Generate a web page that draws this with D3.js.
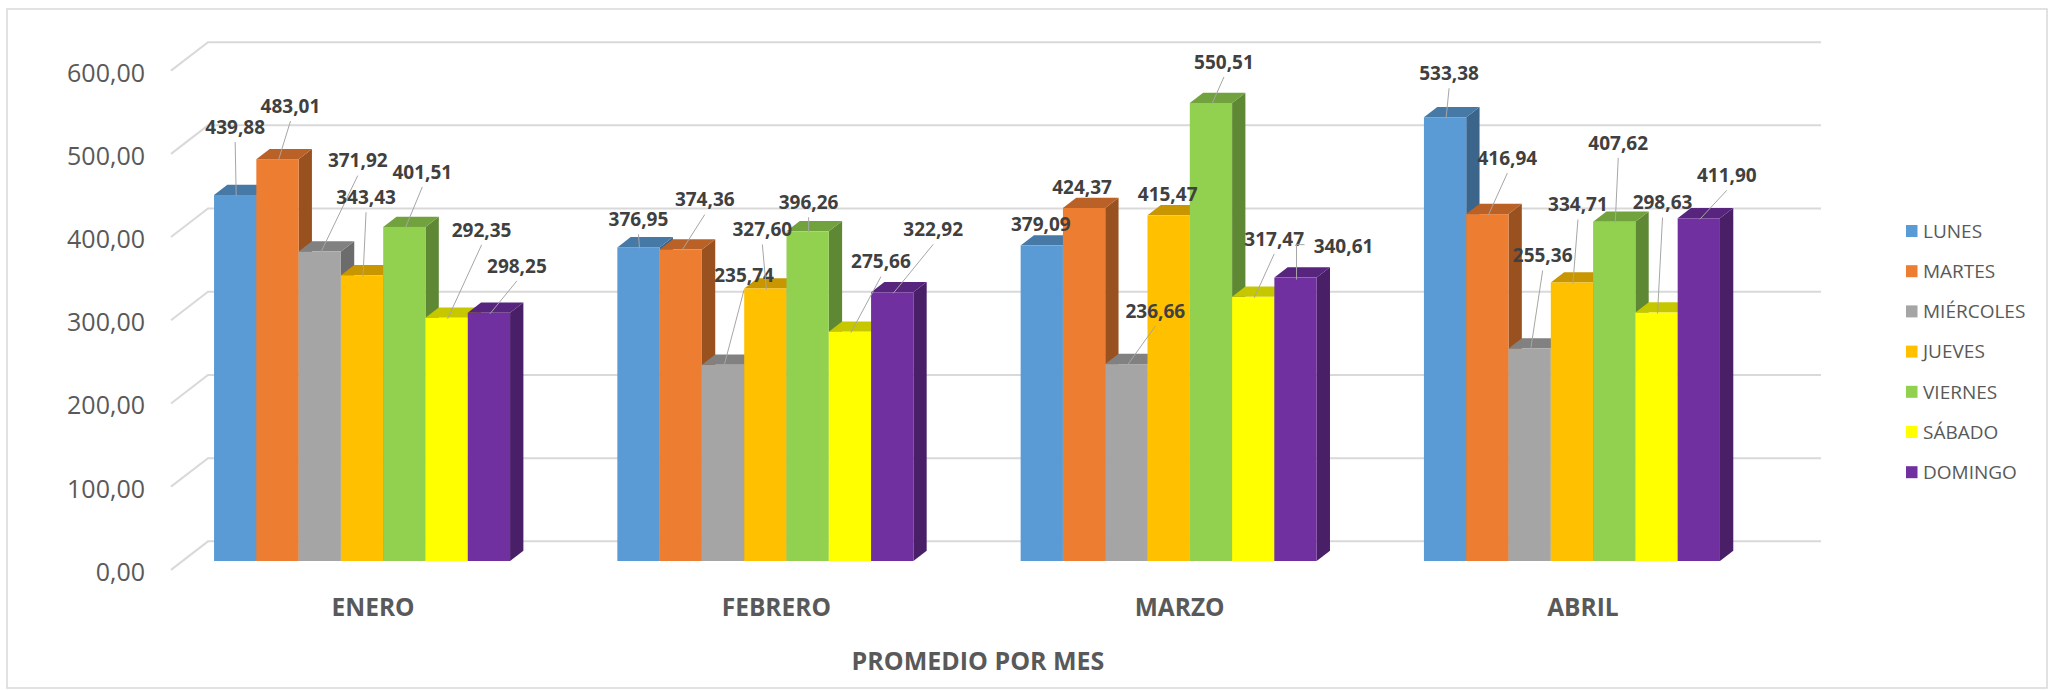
<!DOCTYPE html>
<html>
<head>
<meta charset="utf-8">
<script src="https://cdn.jsdelivr.net/npm/d3@7"></script>
<style>
  body { margin: 0; background: #fff; }
  text { font-family: "Open Sans", "DejaVu Sans", sans-serif; }
</style>
</head>
<body>
<div id="chart"></div>
<script>
// data
var months = ["ENERO", "FEBRERO", "MARZO", "ABRIL"];
var days = ["LUNES", "MARTES", "MIÉRCOLES", "JUEVES", "VIERNES", "SÁBADO", "DOMINGO"];
var lunes     = [439.88, 376.95, 379.09, 533.38];
var martes    = [483.01, 374.36, 424.37, 416.94];
var miercoles = [371.92, 235.74, 236.66, 255.36];
var jueves    = [343.43, 327.60, 415.47, 334.71];
var viernes   = [401.51, 396.26, 550.51, 407.62];
var sabado    = [292.35, 275.66, 317.47, 298.63];
var domingo   = [298.25, 322.92, 340.61, 411.90];
var yTicks = [0, 100, 200, 300, 400, 500, 600];
var series = [lunes, martes, miercoles, jueves, viernes, sabado, domingo];
var colors = ["#5B9BD5", "#ED7D31", "#A5A5A5", "#FFC000", "#92D050", "#FFFF00", "#7030A0"];

// where excel put the data labels (offset from top of each bar)
var labelOffsets = [
  [[0,-68],[13,-53],[38,-91],[4,-78],[18,-55],[35,-88],[28,-47]],
  [[0,-28],[24,-50],[21,-90],[-3,-59],[1,-29],[31,-70],[41,-63]],
  [[-1,-21],[-2,-21],[29,-53],[-1,-21],[13,-41],[21,-58],[48,-31]],
  [[4,-44],[20,-56],[13,-93],[6,-78],[4,-79],[6,-110],[28,-43]]
];

var W = 2053, H = 691;
var fmt = function (v) { return d3.format(".2f")(v).replace(".", ","); };

var svg = d3.select("#chart").append("svg")
  .attr("width", W).attr("height", H);

svg.append("rect")
  .attr("x", 7).attr("y", 9).attr("width", 2040).attr("height", 679)
  .attr("fill", "#fff").attr("stroke", "#d9d9d9").attr("stroke-width", 1.5);

// oblique depth: floor goes (37,-28.5), bars sit in the middle of it
var floorD = [37, -28.5];
var barFront = 0.31, barDepth = 0.36;
var bd = [floorD[0] * barDepth, floorD[1] * barDepth];

var y = d3.scaleLinear().domain([0, 600]).range([561, 61.8]);
var yFront = function (v) { return y(v) - floorD[1] * barFront; };
var yBack = function (v) { return y(v) + floorD[1] * (1 - barFront); };

var x0 = d3.scaleBand().domain(months).range([160.4, 1773.6])
  .paddingInner(0.266).paddingOuter(0.133);
var x1 = d3.scaleBand().domain(days).range([0, x0.bandwidth()]);

var wallLeftFront = 171, wallLeftBack = 208, wallRight = 1821;

// gridlines: left wall diagonal + back wall
var grid = svg.append("g").attr("stroke", "#d9d9d9").attr("stroke-width", 2).attr("fill", "none");
yTicks.forEach(function (t) {
  grid.append("path")
    .attr("d", "M" + wallLeftFront + "," + yFront(t) + "L" + wallLeftBack + "," + yBack(t) + "L" + wallRight + "," + yBack(t));
});

// y axis labels
svg.append("g").selectAll("text").data(yTicks).enter().append("text")
  .attr("x", 145)
  .attr("y", function (d) { return yFront(d) + 2 + 0.357 * 25; })
  .attr("text-anchor", "end")
  .style("font-size", "25px")
  .style("fill", "#595959")
  .text(function (d) { return fmt(d); });

// bars
var bars = svg.append("g");
months.forEach(function (m, mi) {
  days.forEach(function (dname, di) {
    var v = series[di][mi];
    var c = d3.rgb(colors[di]);
    var xl = x0(m) + x1(dname), xr = xl + x1.bandwidth();
    var yt = y(v), yb = y(0);
    bars.append("polygon")
      .attr("points", [[xr, yb], [xr + bd[0], yb + bd[1]], [xr + bd[0], yt + bd[1]], [xr, yt]].join(" "))
      .attr("fill", c.darker(1.2));
    bars.append("polygon")
      .attr("points", [[xl, yt], [xl + bd[0], yt + bd[1]], [xr + bd[0], yt + bd[1]], [xr, yt]].join(" "))
      .attr("fill", c.darker(0.7));
    bars.append("rect")
      .attr("x", xl).attr("y", yt)
      .attr("width", xr - xl).attr("height", yb - yt)
      .attr("fill", c);
  });
});

// data labels + leader lines
var labels = svg.append("g");
months.forEach(function (m, mi) {
  days.forEach(function (dname, di) {
    var v = series[di][mi];
    var cx = x0(m) + x1(dname) + x1.bandwidth() / 2;
    var yt = y(v);
    var off = labelOffsets[mi][di];
    var lx = cx + off[0], ly = yt + off[1];
    if (off[1] < -24) {
      var path;
      if (Math.abs(off[0]) > 30 && off[1] > -35) {
        path = "M" + (lx - 39) + "," + (ly - 2) + "H" + (cx + 1) + "V" + (yt + 2);
      } else {
        path = "M" + lx + "," + (ly + 15) + "L" + (cx + 1) + "," + (yt + 1);
      }
      labels.append("path").attr("d", path)
        .attr("stroke", "#a6a6a6").attr("stroke-width", 1).attr("fill", "none");
    }
    labels.append("text")
      .attr("x", lx).attr("y", ly + 0.357 * 19)
      .attr("text-anchor", "middle")
      .style("font-size", "19px").style("font-weight", "bold")
      .style("fill", "#404040")
      .text(fmt(v));
  });
});

// category labels
svg.append("g").selectAll("text").data(months).enter().append("text")
  .attr("x", function (d) { return x0(d) + x0.bandwidth() / 2 + 11; })
  .attr("y", 607 + 0.357 * 24.5)
  .attr("text-anchor", "middle")
  .style("font-size", "24.5px").style("font-weight", "bold")
  .style("fill", "#595959")
  .text(function (d) { return d; });

svg.append("text")
  .attr("x", 978).attr("y", 661 + 0.357 * 25)
  .attr("text-anchor", "middle")
  .style("font-size", "25px").style("font-weight", "bold")
  .style("fill", "#595959")
  .text("PROMEDIO POR MES");

// legend
var legend = svg.append("g").selectAll("g").data(days).enter().append("g")
  .attr("transform", function (d, i) { return "translate(1906," + (231 + i * 40.2) + ")"; });
legend.append("rect")
  .attr("x", 0).attr("y", -6).attr("width", 11.5).attr("height", 12)
  .attr("fill", function (d, i) { return colors[i]; });
legend.append("text")
  .attr("x", 17).attr("y", 0.357 * 19)
  .style("font-size", "19px").style("fill", "#595959")
  .text(function (d) { return d; });
</script>
</body>
</html>
